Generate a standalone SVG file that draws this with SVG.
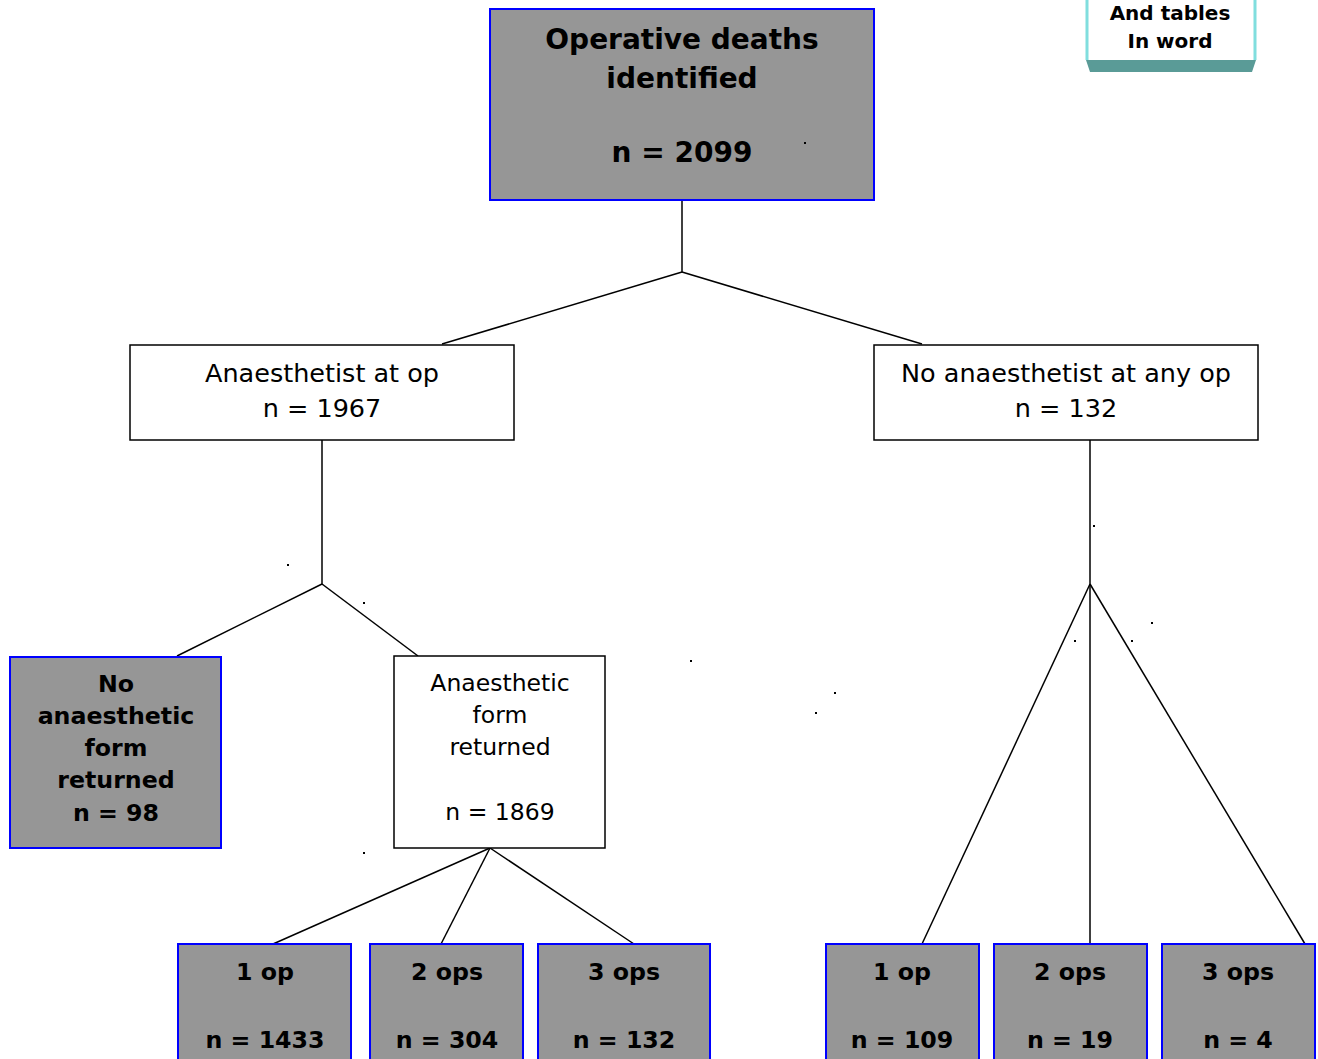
<svg xmlns="http://www.w3.org/2000/svg" width="1318" height="1059" viewBox="0 0 1318 1059">
<style>
.g{fill:#969696;stroke:#0000ff;stroke-width:2}
.w{fill:#ffffff;stroke:#000000;stroke-width:1.5}
.c line{stroke:#000000;stroke-width:1.5}
text{font-family:"DejaVu Sans",Verdana,sans-serif;fill:#000000;text-anchor:middle}
.b{font-weight:bold;font-size:23.7px}
.n{font-size:25.5px}
.m{font-size:23.5px}
.t{font-weight:bold;font-size:28px}
.s{font-weight:bold;font-size:20px}
.d{fill:#000000}
</style>
<rect width="1318" height="1059" fill="#ffffff"/>
<g id="note">
<path d="M1086,60 L1256,60 L1252,72 L1090,72 Z" fill="#5a9b97"/>
<path d="M1087,-5 L1087,60 M1255,-5 L1255,60" stroke="#80dede" stroke-width="3" fill="none"/>
<text class="s" x="1170" y="20">And tables</text>
<text class="s" x="1170" y="48">In word</text>
</g>
<g id="connectors" class="c">
<line x1="682" y1="200" x2="682" y2="272"/>
<line x1="682" y1="272" x2="442" y2="344"/>
<line x1="682" y1="272" x2="922" y2="344"/>
<line x1="322" y1="440" x2="322" y2="584"/>
<line x1="322" y1="584" x2="177" y2="656"/>
<line x1="322" y1="584" x2="418" y2="656"/>
<line x1="490" y1="848" x2="273" y2="944"/>
<line x1="490" y1="848" x2="441" y2="944"/>
<line x1="490" y1="848" x2="634" y2="944"/>
<line x1="1090" y1="440" x2="1090" y2="944"/>
<line x1="1090" y1="584" x2="922" y2="944"/>
<line x1="1090" y1="584" x2="1305" y2="944"/>
</g>
<g id="root">
<rect class="g" x="490" y="9" width="384" height="191"/>
<text class="t" x="682" y="49">Operative deaths</text>
<text class="t" x="682" y="88">identified</text>
<text class="t" x="682" y="162">n = 2099</text>
</g>
<g id="anaesthetist">
<rect class="w" x="130" y="345" width="384" height="95"/>
<text class="n" x="322" y="382">Anaesthetist at op</text>
<text class="n" x="322" y="417">n = 1967</text>
</g>
<g id="no-anaesthetist">
<rect class="w" x="874" y="345" width="384" height="95"/>
<text class="n" x="1066" y="382">No anaesthetist at any op</text>
<text class="n" x="1066" y="417">n = 132</text>
</g>
<g id="no-form">
<rect class="g" x="10" y="657" width="211" height="191"/>
<text class="b" x="116" y="692">No</text>
<text class="b" x="116" y="724">anaesthetic</text>
<text class="b" x="116" y="756">form</text>
<text class="b" x="116" y="788">returned</text>
<text class="b" x="116" y="821">n = 98</text>
</g>
<g id="form">
<rect class="w" x="394" y="656" width="211" height="192"/>
<text class="m" x="500" y="691">Anaesthetic</text>
<text class="m" x="500" y="723">form</text>
<text class="m" x="500" y="755">returned</text>
<text class="m" x="500" y="820">n = 1869</text>
</g>
<g id="l1"><rect class="g" x="178" y="944" width="173" height="125"/><text class="b" x="265" y="980">1 op</text><text class="b" x="265" y="1048">n = 1433</text></g>
<g id="l2"><rect class="g" x="370" y="944" width="153" height="125"/><text class="b" x="447" y="980">2 ops</text><text class="b" x="447" y="1048">n = 304</text></g>
<g id="l3"><rect class="g" x="538" y="944" width="172" height="125"/><text class="b" x="624" y="980">3 ops</text><text class="b" x="624" y="1048">n = 132</text></g>
<g id="r1"><rect class="g" x="826" y="944" width="153" height="125"/><text class="b" x="902" y="980">1 op</text><text class="b" x="902" y="1048">n = 109</text></g>
<g id="r2"><rect class="g" x="994" y="944" width="153" height="125"/><text class="b" x="1070" y="980">2 ops</text><text class="b" x="1070" y="1048">n = 19</text></g>
<g id="r3"><rect class="g" x="1162" y="944" width="153" height="125"/><text class="b" x="1238" y="980">3 ops</text><text class="b" x="1238" y="1048">n = 4</text></g>
<g id="specks" class="d">
<rect x="804" y="142" width="2" height="2"/>
<rect x="287" y="564" width="2" height="2"/>
<rect x="363" y="602" width="2" height="2"/>
<rect x="690" y="660" width="2" height="2"/>
<rect x="834" y="692" width="2" height="2"/>
<rect x="815" y="712" width="2" height="2"/>
<rect x="1093" y="525" width="2" height="2"/>
<rect x="1151" y="622" width="2" height="2"/>
<rect x="1074" y="640" width="2" height="2"/>
<rect x="1131" y="640" width="2" height="2"/>
<rect x="363" y="852" width="2" height="2"/>
</g>
</svg>
